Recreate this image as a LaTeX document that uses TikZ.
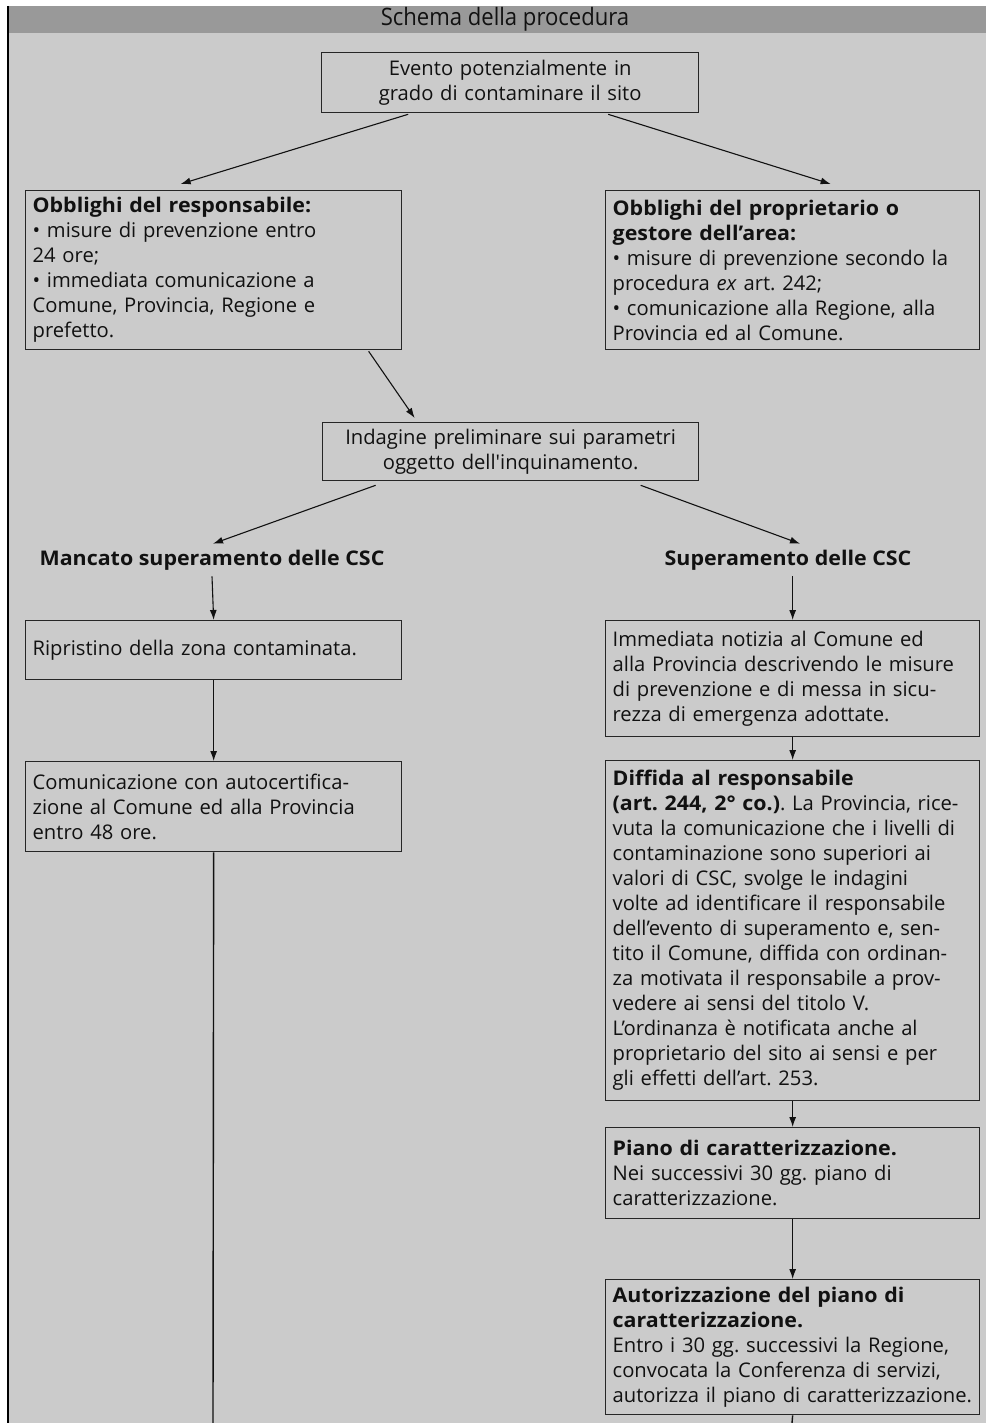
\documentclass[tikz,border=0pt]{standalone}
\usepackage{fontspec}
\setmainfont{Open Sans}[BoldFeatures={FakeStretch=1.06}]
\newfontfamily\hdrfont{Open Sans}[FakeStretch=0.92]
\usetikzlibrary{arrows.meta,calc}
\definecolor{bg}{HTML}{CBCBCB}
\definecolor{hdr}{HTML}{999999}
\definecolor{ink}{HTML}{111111}
\begin{document}
\frenchspacing
\begin{tikzpicture}[x=1bp,y=-1bp,
  font=\fontsize{20.2bp}{25bp}\selectfont, text=ink,
  box/.style={draw=black!85, line width=1.3bp, inner xsep=7bp, inner ysep=0pt, anchor=north west},
  lbox/.style={box, align=left},
  cbox/.style={box, align=center},
  lbl/.style={font=\fontsize{20.2bp}{25bp}\selectfont\bfseries, inner sep=0pt},
  arr/.style={draw=ink, line width=1.1bp, -{Latex[length=10bp,width=7bp]}},
  ln/.style={draw=ink, line width=1.4bp}]
\useasboundingbox (0,0) rectangle (986,1423);
\fill[white] (0,0) rectangle (986,1423);
\fill[bg] (8,6) rectangle (986,1423);
\fill[hdr] (8,6) rectangle (986,33);
\draw[black, line width=2bp] (8,6) -- (8,1423);
\node[font=\hdrfont\fontsize{24bp}{26bp}\selectfont, inner sep=0pt] (hd) at (505,19) {Schema della procedura};

\node[cbox, text width=363bp, minimum height=60bp] (b1) at (321,52)
  {Evento potenzialmente in\\grado di contaminare il sito};
\node[lbox, text width=362bp, minimum height=159bp] (b2) at (25,190)
  {\textbf{Obblighi del responsabile:}\\• misure di prevenzione entro\\24 ore;\\• immediata comunicazione a\\Comune, Provincia, Regione e\\prefetto.};
\node[lbox, text width=360bp, minimum height=159bp] (b3) at (605,190)
  {\textbf{Obblighi del proprietario o}\\\textbf{gestore dell’area:}\\• misure di prevenzione secondo la\\procedura \textit{ex} art. 242;\\• comunicazione alla Regione, alla\\Provincia ed al Comune.};
\node[cbox, text width=362bp, minimum height=58bp] (b4) at (322,422)
  {Indagine preliminare sui parametri\\oggetto dell\textquotesingle inquinamento.};
\node[lbl] (l1) at (212,560) {Mancato superamento delle CSC};
\node[lbl] (l2) at (788,560) {Superamento delle CSC};
\node[lbox, text width=362bp, minimum height=59bp] (b5) at (25,620)
  {Ripristino della zona contaminata.};
\node[lbox, text width=362bp, minimum height=90bp] (b6) at (25,761)
  {Comunicazione con autocertifica-\\zione al Comune ed alla Provincia\\entro 48 ore.};
\node[lbox, text width=360bp, minimum height=116bp] (b7) at (605,620)
  {Immediata notizia al Comune ed\\alla Provincia descrivendo le misure\\di prevenzione e di messa in sicu-\\rezza di emergenza adottate.};
\node[lbox, text width=360bp, minimum height=340bp] (b8) at (605,760)
  {\textbf{Diffida al responsabile}\\\textbf{(art. 244, 2° co.)}. La Provincia, rice-\\vuta la comunicazione che i livelli di\\contaminazione sono superiori ai\\valori di CSC, svolge le indagini\\volte ad identificare il responsabile\\dell’evento di superamento e, sen-\\tito il Comune, diffida con ordinan-\\za motivata il responsabile a prov-\\vedere ai sensi del titolo V.\\L’ordinanza è notificata anche al\\proprietario del sito ai sensi e per\\gli effetti dell’art. 253.};
\node[lbox, text width=360bp, minimum height=91bp] (b9) at (605,1127)
  {\textbf{Piano di caratterizzazione.}\\Nei successivi 30 gg. piano di\\caratterizzazione.};
\node[lbox, text width=360bp, minimum height=135bp] (b10) at (605,1279)
  {\textbf{Autorizzazione del piano di}\\\textbf{caratterizzazione.}\\Entro i 30 gg. successivi la Regione,\\convocata la Conferenza di servizi,\\autorizza il piano di caratterizzazione.};

\coordinate (endL) at (213,1423);
\coordinate (endR) at (792,1423);

\draw[arr] ([xshift=-102bp,yshift=-1bp]b1.south) -- ([xshift=-33bp,yshift=6bp]b2.north);
\draw[arr] ([xshift=98bp,yshift=-1bp]b1.south) -- ([xshift=38bp,yshift=6bp]b3.north);
\draw[arr] ([xshift=155bp,yshift=-1bp]b2.south) -- ([xshift=-96bp,yshift=4bp]b4.north);
\draw[arr] ([xshift=-135bp,yshift=-4bp]b4.south) -- ([xshift=1bp,yshift=6bp]l1.north);
\draw[arr] ([xshift=130bp,yshift=-4bp]b4.south) -- ([xshift=12bp,yshift=6bp]l2.north);
\draw[arr] ([yshift=-6bp]l1.south) -- (b5.north);
\draw[arr] (b5.south) -- (b6.north);
\draw[ln] (b6.south) -- (endL);
\draw[arr] (b7.north |- l2.south) ++(0,6) -- (b7.north);
\draw[arr] (b7.south) -- (b8.north);
\draw[arr] (b8.south) -- (b9.north);
\draw[arr] (b9.south) -- (b10.north);
\draw[ln] (b10.south) -- (endR);
\end{tikzpicture}
\end{document}
